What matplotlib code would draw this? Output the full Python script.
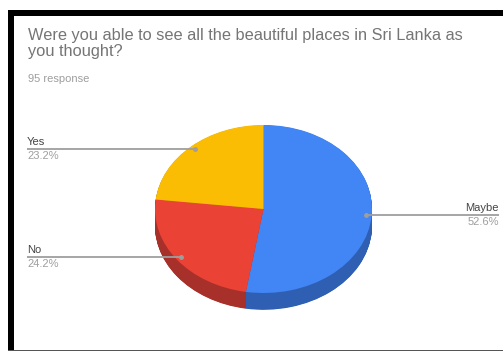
import matplotlib.pyplot as plt
import numpy as np
from matplotlib.patches import Rectangle

labels = ["Maybe", "No", "Yes"]
shares = [52.6, 24.2, 23.2]
top_colors = ["#4285F4", "#EA4335", "#FBBC04"]
side_colors = ["#2F5FB3", "#A8302A", "#B88A03"]

title = "Were you able to see all the beautiful places in Sri Lanka as\nyou thought?"
subtitle = "95 response"

W, H = 503, 352
fig = plt.figure(figsize=(W / 100, H / 100), dpi=100)

# pie axes: unit circle squashed into an ellipse by the axes box
ax = fig.add_axes([0.2003, 0.0483, 0.6471, 0.716])
depth = 0.2
layers = 40
for k in range(layers, 0, -1):
    ax.pie(shares, colors=side_colors, startangle=90, counterclock=False,
           center=(0, -depth * k / layers), radius=1,
           wedgeprops=dict(linewidth=0))
ax.pie(shares, colors=top_colors, startangle=90, counterclock=False,
       radius=1, wedgeprops=dict(linewidth=0))
ax.set_aspect("auto")
ax.set_xlim(-1.5, 1.5)
ax.set_ylim(-1.5, 1.5)
ax.axis("off")

# overlay in pixel coordinates for frame, titles and leader lines
ov = fig.add_axes([0, 0, 1, 1])
ov.set_xlim(0, W)
ov.set_ylim(H, 0)
ov.axis("off")

ov.add_patch(Rectangle((8, 10), W - 8, 6, color="black", lw=0))
ov.add_patch(Rectangle((8, 10), 6, 340, color="black", lw=0))
ov.add_patch(Rectangle((8, 349.5), W - 8, 1.5, color="#555555", lw=0))

ov.text(28, 28, title, fontsize=11.8, color="#757575", family="Liberation Sans",
        va="top", ha="left", linespacing=1.08)
ov.text(28, 74, subtitle, fontsize=8, color="#9e9e9e", family="Liberation Sans",
        va="top", ha="left")

to_px = ov.transData.inverted()
fractions = np.array(shares) / sum(shares)
ends = np.cumsum(fractions)
mids = ends - fractions / 2
for name, share, mid in zip(labels, shares, mids):
    ang = np.deg2rad(90 - 360 * mid)
    anchor = (0.95 * np.cos(ang), 0.95 * np.sin(ang))
    px, py = to_px.transform(ax.transData.transform(anchor))
    right = px > W / 2
    lx = 499 if right else 27
    ha = "right" if right else "left"
    ov.plot([px, lx], [py, py], color="#9e9e9e", lw=1.3, solid_capstyle="butt")
    ov.plot([px], [py], "o", color="#9e9e9e", ms=2.5)
    ov.text(lx, py - 2, name, fontsize=8, color="#444444", ha=ha, va="bottom",
            family="Liberation Sans")
    ov.text(lx, py + 2, f"{share}%", fontsize=8, color="#9e9e9e", ha=ha, va="top",
            family="Liberation Sans")

fig.savefig("out.png", dpi=100)
